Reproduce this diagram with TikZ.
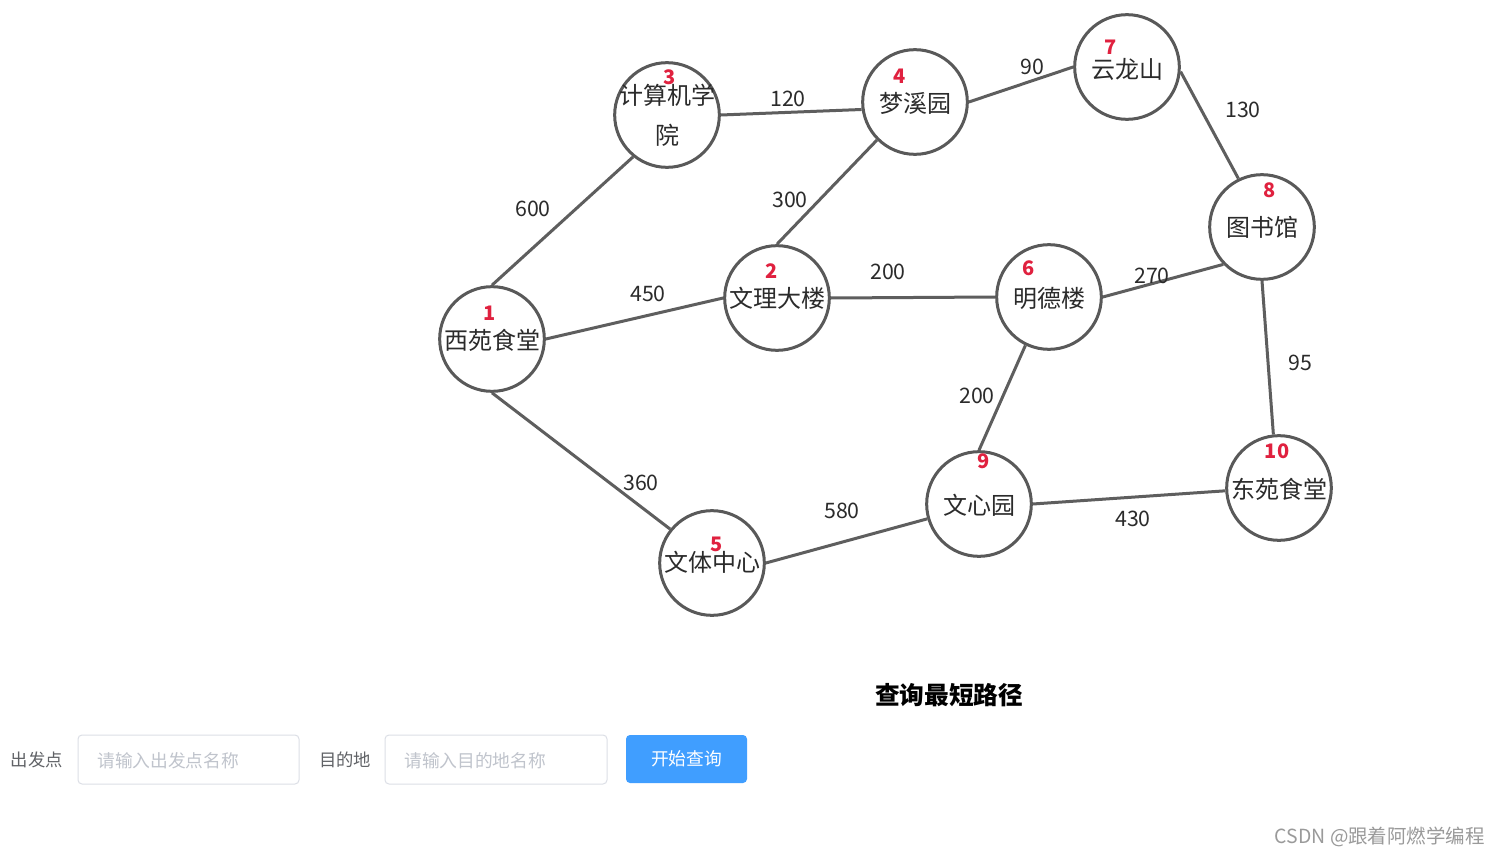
\documentclass[tikz,border=0pt]{standalone}
\usepackage{fontspec}
\setmainfont{Noto Sans CJK SC}
\newfontfamily\cjk{Noto Sans CJK SC}
\definecolor{vgray}{HTML}{595959}
\definecolor{egray}{HTML}{5E5E5E}
\definecolor{ink}{HTML}{2B2B2B}
\definecolor{numred}{HTML}{E0213F}
\definecolor{formgray}{HTML}{606266}
\definecolor{phgray}{HTML}{C0C4CC}
\definecolor{boxborder}{HTML}{DCDFE6}
\definecolor{btnblue}{HTML}{409EFF}
\definecolor{wmgray}{HTML}{9A9A9A}
\begin{document}
\begin{tikzpicture}[x=0.75pt,y=-0.75pt,
  vtx/.style={circle,draw=vgray,line width=2.25pt,minimum size=78.5pt,inner sep=0pt},
  vname/.style={text=ink,font=\cjk\fontsize{18}{20}\selectfont,inner sep=0pt},
  vnum/.style={text=numred,font=\cjk\fontsize{15}{16}\selectfont\bfseries,inner sep=0pt},
  edgeline/.style={draw=egray,line width=2.25pt},
  wt/.style={text=ink,font=\cjk\fontsize{16}{18}\selectfont,inner sep=0pt},
  formlbl/.style={text=formgray,font=\cjk\fontsize{13}{15}\selectfont,inner sep=0pt},
  inputbox/.style={draw=boxborder,line width=0.75pt,rounded corners=3pt,minimum height=36.75pt,inner sep=0pt},
  placeholder/.style={text=phgray,font=\cjk\fontsize{13.3}{15}\selectfont,inner sep=0pt,anchor=west},
  btn/.style={fill=btnblue,rounded corners=3pt,minimum width=90.75pt,minimum height=36pt,inner sep=0pt,text=white,font=\cjk\fontsize{13.3}{15}\selectfont}]
\useasboundingbox[fill=white] (0,0) rectangle (1500,856);

% vertices
\node[vtx] (n1) at (492,339) {};
\node[vtx] (n2) at (777,298) {};
\node[vtx] (n3) at (667,115) {};
\node[vtx] (n4) at (915,102) {};
\node[vtx] (n5) at (712,563) {};
\node[vtx] (n6) at (1049,297) {};
\node[vtx] (n7) at (1127,67) {};
\node[vtx] (n8) at (1262,227) {};
\node[vtx] (n9) at (979,504) {};
\node[vtx] (n10) at (1279,488) {};

% names
\node[vname] (t1) at (492,340) {西苑食堂};
\node[vname] (t2) at (777,298) {文理大楼};
\node[vname] (t3a) at (667,95) {计算机学};
\node[vname] (t3b) at (667,135) {院};
\node[vname] (t4) at (915,103) {梦溪园};
\node[vname] (t5) at (712,562) {文体中心};
\node[vname] (t6) at (1049,298) {明德楼};
\node[vname] (t7) at (1127,69) {云龙山};
\node[vname] (t8) at (1262,227) {图书馆};
\node[vname] (t9) at (979,505) {文心园};
\node[vname] (t10) at (1279,489) {东苑食堂};

% numbers
\node[vnum] (k1) at (490,313) {1};
\node[vnum] (k2) at (772,271) {2};
\node[vnum] (k3) at (670,77) {3};
\node[vnum] (k4) at (900,76) {4};
\node[vnum] (k5) at (717,544) {5};
\node[vnum] (k6) at (1029,268) {6};
\node[vnum] (k7) at (1111,47) {7};
\node[vnum] (k8) at (1270,190) {8};
\node[vnum] (k9) at (984,461) {9};
\node[vnum] (k10) at (1277,451) {10};

% edges
\draw[edgeline] (n1.north) -- (n3.231);
\draw[edgeline] (n1.east) -- (n2.west);
\draw[edgeline] (n1.south) -- (n5.141);
\draw[edgeline] (n2.north) -- (n4.225);
\draw[edgeline] (n2.east) -- (n6.west);
\draw[edgeline] (n3.east) -- (n4.188);
\draw[edgeline] (n4.east) -- (n7.west);
\draw[edgeline] (n7.-5) -- (n8.116);
\draw[edgeline] (n6.east) -- (n8.224);
\draw[edgeline] (n8.south) -- (n10.96);
\draw[edgeline] (n6.244) -- (n9.north);
\draw[edgeline] (n9.east) -- (n10.183);
\draw[edgeline] (n5.east) -- (n9.196);

% weights
\node[wt] (w13) at (533,209) {600};
\node[wt] (w34) at (788,99) {120};
\node[wt] (w24) at (790,200) {300};
\node[wt] (w12) at (648,294) {450};
\node[wt] (w26) at (888,272) {200};
\node[wt] (w47) at (1032,67) {90};
\node[wt] (w78) at (1243,110) {130};
\node[wt] (w68) at (1152,276) {270};
\node[wt] (w810) at (1300,363) {95};
\node[wt] (w69) at (977,396) {200};
\node[wt] (w15) at (641,483) {360};
\node[wt] (w59) at (842,511) {580};
\node[wt] (w910) at (1133,519) {430};

% title and form
\node[text=black,font=\cjk\fontsize{18.5}{20}\selectfont\bfseries,inner sep=0pt] (title) at (949,695) {查询最短路径};
\node[formlbl] (lblfrom) at (37,760) {出发点};
\node[inputbox,minimum width=165.75pt] (boxfrom) at (188.5,759.5) {};
\node[placeholder] (phfrom) at (97,761) {请输入出发点名称};
\node[formlbl] (lblto) at (345,760) {目的地};
\node[inputbox,minimum width=166.5pt] (boxto) at (496,759.5) {};
\node[placeholder] (phto) at (404,761) {请输入目的地名称};
\node[btn] (go) at (686.5,759) {开始查询};

\node[text=wmgray,font=\cjk\fontsize{14.6}{16}\selectfont,inner sep=0pt,anchor=east] (wm) at (1485,837) {CSDN @跟着阿燃学编程};
\end{tikzpicture}
\end{document}
